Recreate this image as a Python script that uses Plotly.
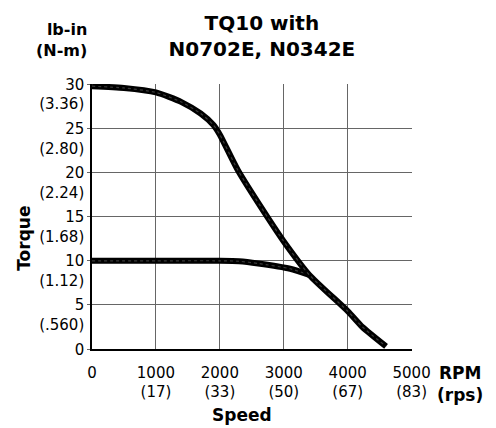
import plotly.graph_objects as go

# Data
upper_rpm = [0, 500, 1000, 1400, 1700, 1900, 2000, 2280, 2750, 3000, 3400, 4000, 4230, 4600]
upper_torque = [29.8, 29.6, 29.1, 28.0, 26.7, 25.4, 24.3, 20.3, 14.9, 12.2, 8.4, 4.3, 2.5, 0.3]

lower_rpm = [0, 1000, 2000, 2300, 2600, 3100, 3400]
lower_torque = [10.0, 10.0, 10.0, 9.95, 9.7, 9.1, 8.4]

x_ticks = [0, 1000, 2000, 3000, 4000, 5000]
x_ticktext = ["0", "1000<br>(17)", "2000<br>(33)", "3000<br>(50)", "4000<br>(67)", "5000<br>(83)"]
y_ticks = [0, 5, 10, 15, 20, 25, 30]
y_ticktext = ["0<br>&nbsp;", "5<br>(.560)", "10<br>(1.12)", "15<br>(1.68)", "20<br>(2.24)", "25<br>(2.80)", "30<br>(3.36)"]

FONT = "DejaVu Sans"

fig = go.Figure()
for xs, ys in [(lower_rpm, lower_torque), (upper_rpm, upper_torque)]:
    fig.add_trace(go.Scatter(x=xs, y=ys, mode="lines",
                             line=dict(color="black", width=6, shape="spline", smoothing=0.6),
                             hoverinfo="skip", showlegend=False))
    fig.add_trace(go.Scatter(x=xs, y=ys, mode="lines",
                             line=dict(color="#3a3a3a", width=1.2, dash="dot", shape="spline", smoothing=0.6),
                             hoverinfo="skip", showlegend=False))

fig.update_layout(
    width=496, height=428,
    margin=dict(l=92, r=84, t=84, b=79, autoexpand=False),
    paper_bgcolor="white", plot_bgcolor="white",
    font=dict(family=FONT, size=15, color="black"),
    title=dict(text="<b>TQ10 with<br>N0702E, N0342E</b>",
               font=dict(family=FONT, size=20, color="black"),
               x=0.528, xanchor="center", y=0.93, yanchor="top"),
    xaxis=dict(range=[0, 5006], tickvals=x_ticks, ticktext=x_ticktext,
               showgrid=True, gridcolor="#666", gridwidth=1,
               showline=True, linecolor="black", linewidth=1.5,
               ticks="", ticklabelstandoff=9, zeroline=False, fixedrange=True, automargin=False,
               tickfont=dict(family=FONT, size=15, color="black")),
    yaxis=dict(range=[0, 30.05], tickvals=y_ticks, ticktext=y_ticktext,
               showgrid=True, gridcolor="#666", gridwidth=1,
               showline=True, linecolor="black", linewidth=1.5,
               ticks="outside", ticklen=3, tickcolor="#666",
               ticklabelshift=10, zeroline=False, fixedrange=True, automargin=False,
               tickfont=dict(family=FONT, size=15, color="black")),
    annotations=[
        dict(text="<b>lb-in<br>(N-m)</b>", xref="paper", yref="paper", x=0, y=1,
             xanchor="right", yanchor="bottom", xshift=-3, yshift=22, showarrow=False,
             align="right", font=dict(family=FONT, size=16)),
        dict(text="<b>RPM<br>(rps)</b>", xref="paper", yref="paper", x=1, y=0,
             xanchor="left", yanchor="top", xshift=23, yshift=-12, showarrow=False,
             align="center", font=dict(family=FONT, size=17)),
        dict(text="<b>Speed</b>", xref="x", yref="paper", x=2350, y=0,
             xanchor="center", yanchor="middle", yshift=-66, showarrow=False,
             font=dict(family=FONT, size=17)),
        dict(text="<b>Torque</b>", xref="paper", yref="y", x=0, y=12.5,
             xanchor="center", yanchor="middle", xshift=-68, textangle=-90, showarrow=False,
             font=dict(family=FONT, size=17)),
    ],
)

fig.write_html("out.html", config={"displayModeBar": False},
               post_script="document.body.style.margin='0';")
